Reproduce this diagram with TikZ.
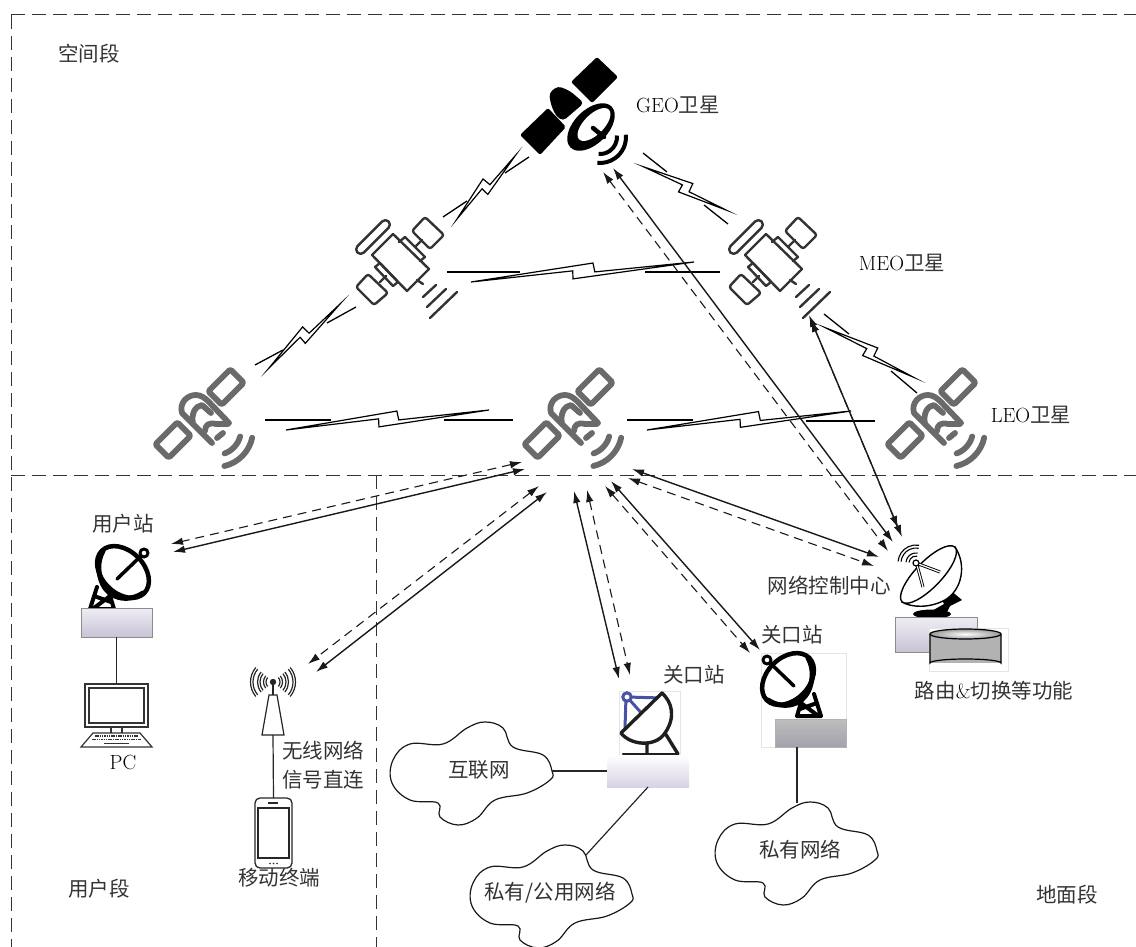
\documentclass[tikz,border=0pt]{standalone}
\usepackage{fontspec}
\usetikzlibrary{arrows.meta,calc}
\newfontfamily\cjk{Noto Sans CJK SC}
\newcommand{\zh}[1]{{\cjk\color{black!80}#1}}
\definecolor{satgray}{HTML}{6A6A6A}
\definecolor{satdark}{HTML}{333333}
\definecolor{dishblue}{HTML}{4A52A8}
\definecolor{lavtop}{HTML}{EFEDF4}
\definecolor{lavbot}{HTML}{C9C3D6}
\definecolor{lavlow}{HTML}{D8D2E4}
\definecolor{gwtop}{HTML}{BEBEBE}
\definecolor{gwbot}{HTML}{A3A1AC}
\tikzset{
  lab/.style={font=\fontsize{20.5}{29}\selectfont,inner sep=0pt,align=center,text=black},
  seam/.style={line width=1pt,dash pattern=on 14pt off 7pt,black!80},
  link/.style={line width=1.4pt,black!90,{Latex[length=12pt,width=7.5pt]}-{Latex[length=12pt,width=7.5pt]}},
  dlink/.style={line width=1.1pt,black!90,dash pattern=on 9pt off 6pt,{Latex[length=12pt,width=7.5pt]}-{Latex[length=12pt,width=7.5pt]}},
  wire/.style={line width=1.2pt,black!85},
  boltline/.style={line width=1.2pt,black,line join=miter,miter limit=30},
  seg/.style={line width=1.3pt,black},
  cloudline/.style={line width=1.2pt,black!90,fill=white},
  stationbox/.style={draw=black!45,line width=1pt,inner sep=0pt,outer sep=0pt,top color=lavtop,bottom color=lavbot},
  plainbox/.style={inner sep=0pt,outer sep=0pt,top color=white,bottom color=lavlow},
  greybox/.style={draw=black!30,line width=1pt,inner sep=0pt,outer sep=0pt,top color=gwtop,bottom color=gwbot},
  frame/.style={draw=black!10,line width=.8pt,fill=white,inner sep=0pt,outer sep=0pt},
}
\newcommand{\litesat}[1]{\begin{scope}[shift={(#1,0)},satgray,line width=5.8pt,line join=round,line cap=round]
      \draw[rounded corners=1.5pt] (590.7,404.7)--(577.3,391.3)--(599.3,369.3)--(612.7,382.7)--cycle;
      \draw[rounded corners=1.5pt] (537.7,457.7)--(524.3,444.3)--(546.3,422.3)--(559.7,435.7)--cycle;
      \draw (581,443)--(551,413) .. controls (548,403) and (556,395) .. (565,395) .. controls (570,395) and (574,398) .. (578,402) -- (598,423);
      \draw (562,424) .. controls (560,414) and (564,406) .. (571,405) -- (580,413);
      \draw (574,431) .. controls (574,425) and (578,422) .. (585,424) -- (597,424);
      \draw (586,438)--(592,433);
      \draw ([shift={(15:25)}]585,430) arc[start angle=15,end angle=70,radius=25];
      \draw ([shift={(12:37)}]585,430) arc[start angle=12,end angle=77,radius=37];
    \end{scope}}
\newcommand{\linesat}[1]{\begin{scope}[shift={(#1,0)},satdark,line width=2.4pt,line join=round,line cap=round]
      \draw (393,234)--(429,269)--(407,291)--(372,255)--cycle;
      \draw (399,242)--(405,237)--(425,257)--(420,261);
      \draw (375,267)--(380,263)--(398,282)--(393,286)--cycle;
      \draw[rounded corners=2.5pt] (425,217)--(444,235)--(430,249)--(412,231)--cycle;
      \draw[rounded corners=2.5pt] (368,274)--(388,293)--(374,305)--(356,287)--cycle;
      \draw (416,246)--(422,240) (380,282)--(386,276) (417,280)--(423,284);
      \draw[rotate around={-45:(373,237)},rounded corners=4.5pt] (351,232.5) rectangle (395,241.5);
      \draw (423,297)--(436,285) (427,307)--(446,289) (430,318)--(457,292);
    \end{scope}}
\newcommand{\blackdish}[3]{\begin{scope}[shift={(#1,#2)},xscale=#3,black,line join=round,line cap=round]
      \draw[line width=4.5pt,fill=white] (0,0) ellipse[x radius=30,y radius=21,rotate=-45];
      \draw[line width=5pt] (-20,21) .. controls (-5,31) and (16,27) .. (22,8) .. controls (26,-4) and (24,-14) .. (20,-21);
      \draw[line width=3.5pt] (6,7)--(-20,-18);
      \draw[line width=3pt,fill=white] (-21,-19) circle[radius=4];
      \draw[line width=4pt] (9,37)--(15,17) (33,37)--(26,15) (9,37)--(33,37) (12,30)--(29,24) (13,24)--(29,36);
    \end{scope}}
\newcommand{\netcloud}[2]{\begin{scope}[shift={(#1,#2)}]
    \draw[cloudline] plot[smooth cycle,tension=.65] coordinates {(552,771)(543,755)(513,747)(503,728)(485,722)(467,728)(443,744)(410,744)(393,760)(392,783)(410,800)(438,803)(440,817)(458,825)(477,818)(495,800)(527,793)(550,780)};
    \end{scope}}
\newcommand{\bolt}[2]{\draw[boltline] (#1) -- ($(#1)!.55!(#2)!-8pt!90:(#2)$) -- ($(#1)!.555!(#2)!1pt!90:(#2)$) -- (#2) -- ($(#1)!.455!(#2)!6pt!90:(#2)$) -- ($(#1)!.457!(#2)!-2pt!90:(#2)$) -- cycle;}
\newcommand{\tie}[6]{\coordinate (#1s) at (#2,#3);\coordinate (#1e) at (#4,#5);\draw[#6] (#1s) -- (#1e);}
\begin{document}
\begin{tikzpicture}[x=1pt,y=1pt,yscale=-1]
\useasboundingbox (0,0) rectangle (1136,947);
% seams
\coordinate (tl) at (11,15); \coordinate (tr) at (1136,15); \coordinate (bl) at (11,947);
\coordinate (ml) at (11,475); \coordinate (mr) at (1136,475); \coordinate (mm) at (376,475); \coordinate (mb) at (376,947);
\draw[seam] (tl)--(tr); \draw[seam] (tl)--(bl); \draw[seam] (ml)--(mr); \draw[seam] (mm)--(mb);

% satellites
\begin{scope}[black]
  \fill[rounded corners=2pt] (597,57)--(618,77)--(592,103)--(571,82)--cycle;
  \fill[rounded corners=2pt] (548,108)--(566,127)--(540,155)--(520,135)--cycle;
  \fill[rounded corners=4pt] (549,93)--(558,86)--(570,91)--(584,103)--(563,121)--(556,116)--(551,105)--cycle;
  \fill (591,127) ellipse[x radius=29,y radius=17,rotate=-45];
  \fill[white] (594,124.5) ellipse[x radius=21,y radius=10,rotate=-45];
  \draw[line width=4.5pt,line cap=round] (593,128)--(604,137);
  \draw[line width=4pt] ([shift={(-5:17)}]600,137) arc[start angle=-5,end angle=95,radius=17];
  \draw[line width=4pt] ([shift={(-5:26)}]600,137) arc[start angle=-5,end angle=96,radius=26];
\end{scope}
\linesat{0}
\linesat{373}
\litesat{-369}
\litesat{0}
\litesat{363}

% bolts between satellites
\coordinate (b1a) at (457,219); \coordinate (b1b) at (515,156); \bolt{b1a}{b1b}
\tie{s1a}{443}{217}{467}{201}{seg} \tie{s1b}{505}{173}{529}{157}{seg}
\coordinate (b2a) at (269,368); \coordinate (b2b) at (340,304); \bolt{b2a}{b2b}
\tie{s2a}{255}{365}{283}{350}{seg} \tie{s2b}{327}{323}{356}{307}{seg}
\coordinate (b3a) at (286,430); \coordinate (b3b) at (489,410); \bolt{b3a}{b3b}
\tie{s3a}{265}{420}{331}{420}{seg} \tie{s3b}{444}{420}{513}{420}{seg}
\coordinate (b4a) at (471,282); \coordinate (b4b) at (694,262); \bolt{b4a}{b4b}
\tie{s4a}{447}{272}{520}{272}{seg} \tie{s4b}{645}{272}{720}{272}{seg}
\coordinate (b5a) at (644,167); \coordinate (b5b) at (726,210); \bolt{b5a}{b5b}
\tie{s5a}{643}{153}{667}{172}{seg} \tie{s5b}{704}{205}{728}{224}{seg}
\coordinate (b6a) at (826,328); \coordinate (b6b) at (913,377); \bolt{b6a}{b6b}
\tie{s6a}{824}{314}{849}{334}{seg} \tie{s6b}{891}{371}{917}{393}{seg}
\coordinate (b7a) at (647,430); \coordinate (b7b) at (851,411); \bolt{b7a}{b7b}
\tie{s7a}{627}{420}{693}{420}{seg} \tie{s7b}{806}{421}{875}{421}{seg}

% feeder links
\tie{l1}{525}{469}{173}{552}{link}
\tie{l2}{522}{462}{171}{544}{dlink}
\tie{l3}{547}{492}{316}{672}{link}
\tie{l4}{539}{486}{308}{664}{dlink}
\tie{l5}{574}{491}{619}{679}{link}
\tie{l6}{587}{490}{630}{675}{dlink}
\tie{l7}{611}{481}{760}{650}{link}
\tie{l8}{605}{486}{750}{653}{dlink}
\tie{l9}{632}{469}{879}{557}{link}
\tie{l10}{628}{478}{874}{566}{dlink}
\tie{l11}{613}{168}{893}{542}{link}
\tie{l12}{603}{172}{888}{551}{dlink}
\tie{l13}{809}{315}{902}{537}{link}
\tie{l14}{811}{320}{898}{528}{dlink}

% user station
\blackdish{123}{572}{-1}
\node[stationbox,minimum width=71pt,minimum height=29pt] (ubox) at (116.5,622.5) {};
\node[draw=black!80,line width=1.5pt,fill=white,inner sep=0pt,outer sep=0pt,minimum width=63pt,minimum height=43pt] (pcmon) at (116.5,705.5) {};
\draw[wire] (ubox.south)--(pcmon.north);
\draw[black!80,line width=1.3pt] (89,688) rectangle (144,723);
\draw[black!80,line width=1.2pt] (111,727)--(111,733) (122,727)--(122,733);
\draw[black!80,line width=1.2pt,line join=miter] (93,733)--(140,733)--(152,747)--(81,747)--cycle;
\draw[black!80,line width=1.7pt,dash pattern=on 1.5pt off .8pt] (95,736)--(138,736) (92,739.5)--(141,739.5);
\draw[black!80,line width=1.7pt] (104,743.5)--(129,743.5);

% tower and phone
\begin{scope}[black!85]
  \fill (273,682) circle[radius=3.2];
  \draw[line width=1.3pt] (273,682)--(273,695);
  \draw[line width=1.2pt,fill=white,line join=miter] (269,695)--(277,695)--(284,735)--(262,735)--cycle;
  \foreach \r in {7,9.5,13,15.5,20,22.5}{
    \draw[line width=1.2pt] ([shift={(-40:\r)}]273,682) arc[start angle=-40,end angle=40,radius=\r];
    \draw[line width=1.2pt] ([shift={(140:\r)}]273,682) arc[start angle=140,end angle=220,radius=\r];
  }
\end{scope}
\coordinate (twr) at (273,735);
\node[draw=black!85,line width=1.3pt,rounded corners=5pt,fill=white,inner sep=0pt,outer sep=0pt,minimum width=37pt,minimum height=70pt] (phone) at (273.5,833) {};
\draw[wire] (twr)--(phone.north);
\draw[black!85,line width=1.2pt] (258,808) rectangle (289,858);
\draw[black!85,line width=1.2pt] (268,803)--(278,803);
\fill[black!85] (270,863.5) circle[radius=.9] (273.5,863.5) circle[radius=.9] (277,863.5) circle[radius=.9];

% clouds
\netcloud{0}{0}
\netcloud{80}{123}
\netcloud{325}{80}
\coordinate (cl1) at (552,771); \coordinate (cl2) at (586,855); \coordinate (cl3) at (797,803);

% gateway 1
\node[frame,minimum width=61pt,minimum height=64pt] (gw1frame) at (649.5,723) {};
\begin{scope}[dishblue,line width=3pt]
  \draw (627,697)--(662,698) (626,697)--(625,728) (627,697)--(645,717);
  \draw[fill=white] (627,697) circle[radius=4.2];
\end{scope}
\begin{scope}[black!88,line width=3.4pt,line join=round,line cap=round]
  \draw[fill=white] (662,693)--(621,733) .. controls (630,745) and (655,748) .. (665,733) .. controls (676,717) and (672,702) .. (662,693)--cycle;
  \draw (647,743)--(647,754) (665,733)--(678,754);
  \draw[line width=2.4pt] (623,754)--(678,754);
\end{scope}
\node[plainbox,minimum width=82pt,minimum height=32pt] (gw1) at (648,771) {};
\draw[wire] (cl1)--(gw1.west);
\draw[wire] (gw1.south)--(cl2);

% gateway 2
\node[frame,minimum width=85pt,minimum height=94pt] (gw2frame) at (803.5,700) {};
\blackdish{788}{679}{1}
\node[greybox,minimum width=71pt,minimum height=28pt] (gw2) at (810.5,733) {};
\coordinate (gw2out) at (797,747);
\draw[wire] (gw2out)--(cl3);

% network control centre
\begin{scope}[black]
  \fill (950,590)--(962,600)--(950,606)--(946,614)--(930,612)--(944,604)--(940,596)--cycle;
  \fill (932,614) ellipse[x radius=19,y radius=4.5];
  \draw[line width=1.4pt,fill=white] (955,547) .. controls (967,565) and (962,590) .. (945,600) .. controls (930,608) and (912,608) .. (902,602)--cycle;
  \draw[line width=1.4pt,fill=white] (928.5,574.5) ellipse[x radius=38,y radius=13,rotate=-46];
  \draw[line width=3pt] (916,563)--(940,572) (917,565)--(923,587);
  \draw[white,line width=1.2pt] (916,563)--(940,572) (917,565)--(923,587);
  \draw[line width=1.2pt,fill=white] (916,563) circle[radius=3];
  \foreach \r in {7,10,15,18}{
    \draw[line width=1.1pt] ([shift={(185:\r)}]916,563) arc[start angle=185,end angle=280,radius=\r];
  }
\end{scope}
\node[stationbox,minimum width=82pt,minimum height=35pt] (nccbox) at (936,634.5) {};
\node[frame,minimum width=79pt,minimum height=43pt] (cylframe) at (968.5,649.5) {};
\fill[black!30] (930,634) rectangle (1001,663);
\draw[black,line width=1.2pt,fill=black!30] (930,634)--(930,663) arc[start angle=180,end angle=0,x radius=35.5,y radius=-4]--(1001,634);
\draw[black,line width=1.2pt,inner color=white,outer color=black!40] (965.5,634) ellipse[x radius=35.5,y radius=5];

% labels
\node[lab] (t1) at (89,54) {\zh{空间段}};
\node[lab] (t2) at (678,105) {GEO\zh{卫星}};
\node[lab] (t3) at (902,263) {MEO\zh{卫星}};
\node[lab] (t4) at (1031,415) {LEO\zh{卫星}};
\node[lab] (t5) at (123,524) {\zh{用户站}};
\node[lab] (t6) at (829,586) {\zh{网络控制中心}};
\node[lab] (t7) at (792,635) {\zh{关口站}};
\node[lab] (t8) at (694,675) {\zh{关口站}};
\node[lab] (t9) at (994,691) {\zh{路由}\&\zh{切换等功能}};
\node[lab] (t10) at (123,762) {PC};
\node[lab] (t11) at (323,765) {\zh{无线网络}\\\zh{信号直连}};
\node[lab] (t12) at (279,878) {\zh{移动终端}};
\node[lab] (t13) at (99,889) {\zh{用户段}};
\node[lab] (t14) at (1067,895) {\zh{地面段}};
\node[lab] (t15) at (479,770) {\zh{互联网}};
\node[lab] (t16) at (550,893) {\zh{私有/公用网络}};
\node[lab] (t17) at (800,850) {\zh{私有网络}};
\end{tikzpicture}
\end{document}
